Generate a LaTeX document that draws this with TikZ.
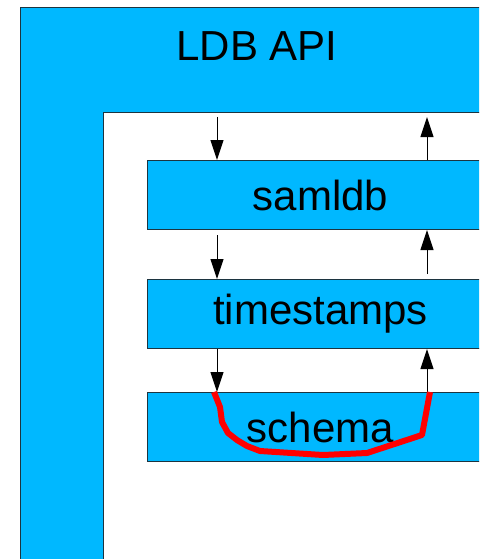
\documentclass[tikz,border=0pt]{standalone}
\usepackage{fontspec}
\setmainfont{Liberation Sans}
\usepackage{tikz}
\usetikzlibrary{arrows.meta,positioning}

\definecolor{ldbblue}{HTML}{00B8FF}
\definecolor{ldbedge}{HTML}{1C3440}

\tikzset{
  module/.style={draw=ldbedge, line width=1pt, fill=ldbblue, rectangle,
    minimum width=346pt, minimum height=69pt, inner sep=0pt,
    font=\fontsize{42}{48}\selectfont},
  flow/.style={line width=1pt, -{Triangle[width=13pt,length=20pt]}},
  hook/.style={red, line width=6pt, line join=round}
}

\begin{document}
\begin{tikzpicture}[x=1pt,y=-1pt]
    \useasboundingbox (0,0) rectangle (479,559);
    \clip (0,0) rectangle (479,559);
    \fill[white] (0,0) rectangle (479,559);
    \filldraw[fill=ldbblue, draw=ldbedge, line width=1pt]
      (20,8) -- (495,8) -- (495,113) -- (103,113) -- (103,570) -- (20,570) -- cycle;
    \node[font=\fontsize{42}{48}\selectfont] (api) at (257,46) {LDB API};

    \node[module, anchor=north west] (samldb) at (147,160) {samldb};
    \node[module, below=49pt of samldb] (timestamps) {timestamps};
    \node[module, below=43pt of timestamps] (schema) {schema};

    \coordinate (down) at (217,117);
    \coordinate (up) at (427,117);

    \draw[flow] (down) -- (down |- samldb.north);
    \draw[flow] (up |- samldb.north) -- (up);
    \draw[flow, shorten <=5pt] (down |- samldb.south) -- (down |- timestamps.north);
    \draw[flow, shorten <=5pt] (up |- timestamps.north) -- (up |- samldb.south);
    \draw[flow] (down |- timestamps.south) -- (down |- schema.north);
    \draw[flow] (up |- schema.north) -- (up |- timestamps.south);

    \draw[hook] (214,392) -- (220,407) -- (222,422) -- (228,433) -- (237,440)
      -- (247,446) -- (260,451) -- (323,455) -- (367,453) -- (422,435) -- (430,392);
  \end{tikzpicture}
\end{document}
